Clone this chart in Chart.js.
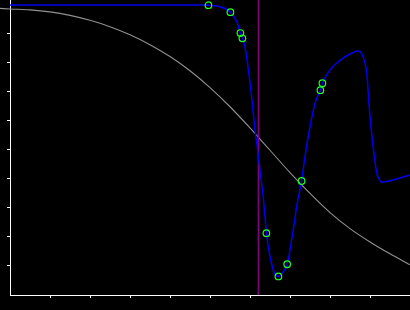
<!DOCTYPE html>
<html>
<head>
<meta charset="utf-8">
<script src="https://cdn.jsdelivr.net/npm/chart.js@4/dist/chart.umd.min.js"></script>
<style>
html,body{margin:0;padding:0;background:#000;}
#wrap{width:410px;height:310px;}
</style>
</head>
<body>
<div id="wrap"><canvas id="c" width="410" height="310"></canvas></div>
<script>
// Gray reference curve
const grayX = [-0.25,0,0.5,1,1.5,2,2.5,3,3.5,4,4.5,5,5.5,6,6.5,7,7.5,8,8.5,9,9.5,10];
const grayY = [9.88,9.86,9.83,9.76,9.64,9.47,9.25,8.97,8.63,8.22,7.73,7.15,6.49,5.76,4.99,4.22,3.50,2.84,2.29,1.83,1.42,1.04];

// Blue response curve
const blueX = [0,4.875,4.96,5.25,5.51,5.67,5.76,5.81,5.875,5.96,6.04,6.125,6.18,6.25,6.32,6.375,6.41,6.58,6.71,6.83,6.93,7.08,7.18,7.29,7.375,7.5,7.625,7.76,7.81,8.0,8.25,8.5,8.71,8.79,8.875,8.92,8.98,9.04,9.11,9.17,9.23,9.29,9.42,9.67,10];
const blueY = [10,10,9.99,9.94,9.75,9.42,9.03,8.85,8.55,7.76,6.84,5.69,5.11,4.31,3.52,2.70,2.14,0.86,0.64,0.80,1.06,2.24,3.16,3.94,4.77,5.80,6.61,7.06,7.30,7.76,8.09,8.31,8.41,8.33,7.99,7.64,6.49,5.58,4.77,4.20,3.99,3.89,3.91,4.00,4.14];

// Green sample markers
const markerX = [4.96,5.51,5.76,5.81,6.41,6.71,6.93,7.29,7.76,7.81];
const markerY = [9.99,9.75,9.03,8.85,2.13,0.64,1.06,3.93,7.06,7.30];

// Vertical cursor
const cursorX = 6.21;

// Axis ranges / ticks
const xMin = 0, xMax = 10;
const yMin = 0, yMax = 10.17;
const xTicks = [1,2,3,4,5,6,7,8,9];
const yTicks = [1,2,3,4,5,6,7,8,9];

const pts = (xs, ys) => xs.map((x, i) => ({x: x, y: ys[i]}));

new Chart(document.getElementById('c'), {
  type: 'scatter',
  data: {
    datasets: [
      {
        data: pts(markerX, markerY),
        showLine: false,
        pointRadius: 3.3,
        pointBorderWidth: 1.2,
        pointBorderColor: '#22ff22',
        pointBackgroundColor: 'rgba(0,0,0,0)',
        order: 0
      },
      {
        data: pts(blueX, blueY),
        showLine: true,
        borderColor: '#0000f0',
        borderWidth: 1.5,
        pointRadius: 0,
        cubicInterpolationMode: 'monotone',
        order: 1
      },
      {
        data: [{x: cursorX, y: yMin}, {x: cursorX, y: yMax}],
        showLine: true,
        borderColor: '#800080',
        borderWidth: 1.5,
        pointRadius: 0,
        clip: false,
        order: 2
      },
      {
        data: pts(grayX, grayY),
        showLine: true,
        borderColor: '#909090',
        borderWidth: 1.1,
        pointRadius: 0,
        cubicInterpolationMode: 'monotone',
        clip: false,
        order: 3
      }
    ]
  },
  options: {
    responsive: false,
    animation: false,
    events: [],
    layout: {padding: 0, autoPadding: false},
    plugins: {legend: {display: false}, tooltip: {enabled: false}},
    scales: {
      x: {
        type: 'linear',
        min: xMin, max: xMax,
        afterBuildTicks: s => { s.ticks = xTicks.map(v => ({value: v})); },
        afterFit: s => { s.height = 15; s.paddingLeft = 0; s.paddingRight = 0; },
        ticks: {display: false},
        grid: {drawOnChartArea: false, tickLength: 3, color: '#ffffff', lineWidth: 1},
        border: {color: '#ffffff', width: 1}
      },
      y: {
        type: 'linear',
        min: yMin, max: yMax,
        afterBuildTicks: s => { s.ticks = yTicks.map(v => ({value: v})); },
        afterFit: s => { s.width = 10; s.paddingTop = 0; s.paddingBottom = 0; },
        ticks: {display: false},
        grid: {drawOnChartArea: false, tickLength: 3, color: '#ffffff', lineWidth: 1},
        border: {color: '#ffffff', width: 1}
      }
    }
  }
});
</script>
</body>
</html>
